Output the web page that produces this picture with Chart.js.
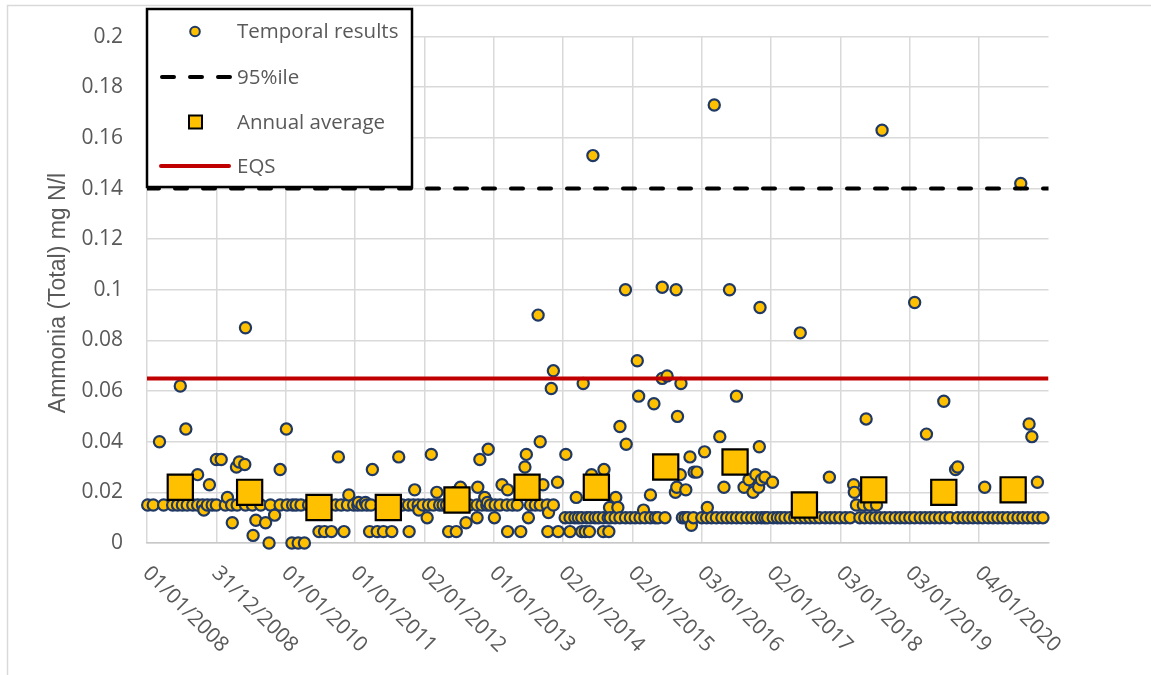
<!DOCTYPE html>
<html>
<head>
<meta charset="utf-8">
<title>Ammonia (Total) mg N/l</title>
<script src="https://cdn.jsdelivr.net/npm/chart.js@4.4.1/dist/chart.umd.min.js"></script>
<style>
  html, body { margin: 0; padding: 0; background: #ffffff; }
  #wrap { position: relative; width: 1151px; height: 675px; }
  canvas { display: block; }
</style>
</head>
<body>
<div id="wrap"><canvas id="chart" width="1151" height="675"></canvas></div>
<script>
// ---- data -------------------------------------------------------------
const tickLabels = ['01/01/2008', '31/12/2008', '01/01/2010', '01/01/2011', '02/01/2012',
  '01/01/2013', '02/01/2014', '02/01/2015', '03/01/2016', '02/01/2017', '03/01/2018',
  '03/01/2019', '04/01/2020'];
const axisTitle = 'Ammonia (Total) mg N/l';
const seriesNames = ['Temporal results', '95%ile', 'Annual average', 'EQS'];

const eqsValue = 0.065;
const p95Value = 0.14;

// sample dates (decimal years) of results reported at the limit values
const lodYears015 = [2008.01, 2008.09, 2008.24, 2008.37, 2008.44, 2008.51, 2008.58, 2008.66, 2008.73,
  2008.80, 2008.87, 2008.94, 2009.00, 2009.13, 2009.22, 2009.30, 2009.42, 2009.52, 2009.64, 2009.78,
  2009.92, 2010.02, 2010.10, 2010.15, 2010.22, 2010.33, 2010.42, 2010.50, 2010.58, 2010.72, 2010.80,
  2010.89, 2010.98, 2011.04, 2011.10, 2011.17, 2011.23, 2011.38, 2011.50, 2011.68, 2011.77, 2011.84,
  2011.91, 2011.98, 2012.06, 2012.13, 2012.22, 2012.27, 2012.32, 2012.40, 2012.55, 2012.65, 2012.76,
  2012.83, 2012.90, 2012.95, 2013.02, 2013.09, 2013.19, 2013.27, 2013.34, 2013.53, 2013.60, 2013.67,
  2013.77, 2013.86];
const lodYears010 = [2014.03, 2014.10, 2014.17, 2014.22, 2014.27, 2014.34, 2014.39, 2014.46, 2014.51,
  2014.58, 2014.65, 2014.68, 2014.75, 2014.82, 2014.90, 2014.97, 2015.04, 2015.11, 2015.18, 2015.26,
  2015.33, 2015.37, 2015.47, 2015.72, 2015.76, 2015.80, 2015.88, 2016.00, 2016.07, 2016.14, 2016.21,
  2016.29, 2016.36, 2016.43, 2016.50, 2016.57, 2016.65, 2016.72, 2016.79, 2016.86, 2016.91, 2016.95,
  2017.03, 2017.09, 2017.14, 2017.20, 2017.27, 2017.34, 2017.42, 2017.49, 2017.56, 2017.63, 2017.70,
  2017.78, 2017.85, 2017.92, 2017.99, 2018.07, 2018.14, 2018.28, 2018.35, 2018.43, 2018.50, 2018.57,
  2018.64, 2018.71, 2018.79, 2018.86, 2018.93, 2019.00, 2019.07, 2019.15, 2019.22, 2019.29, 2019.36,
  2019.43, 2019.51, 2019.58, 2019.69, 2019.77, 2019.84, 2019.91, 2019.98, 2020.05, 2020.13, 2020.20,
  2020.27, 2020.34, 2020.41, 2020.49, 2020.56, 2020.63, 2020.70, 2020.77, 2020.85, 2020.92];
const lodYears0045 = [2010.48, 2010.56, 2010.66, 2010.84, 2011.21, 2011.32, 2011.41, 2011.53, 2011.78,
  2012.35, 2012.46, 2013.20, 2013.39, 2013.78, 2013.93, 2014.10, 2014.27, 2014.32, 2014.38, 2014.58,
  2014.66];

// measured results above the limit values: [decimal year, mg N/l]
const measured = [
  [2008.18, 0.040], [2008.48, 0.062], [2008.56, 0.045], [2008.73, 0.027], [2008.82, 0.013], [2008.90, 0.023],
  [2009.00, 0.033], [2009.07, 0.033], [2009.16, 0.018], [2009.23, 0.008], [2009.29, 0.030], [2009.33, 0.032],
  [2009.41, 0.031], [2009.42, 0.085], [2009.53, 0.003], [2009.57, 0.009], [2009.71, 0.008], [2009.76, 0.000],
  [2009.84, 0.011], [2009.92, 0.029], [2010.01, 0.045], [2010.09, 0.000], [2010.18, 0.000], [2010.27, 0.000],
  [2010.76, 0.034], [2010.91, 0.019], [2011.05, 0.016], [2011.15, 0.016], [2011.25, 0.029], [2011.63, 0.034],
  [2011.86, 0.021], [2011.92, 0.013], [2012.04, 0.010], [2012.10, 0.035], [2012.18, 0.020], [2012.44, 0.020],
  [2012.52, 0.022], [2012.60, 0.008], [2012.76, 0.010], [2012.77, 0.022], [2012.80, 0.033], [2012.87, 0.018],
  [2012.91, 0.016], [2012.92, 0.037], [2013.01, 0.010], [2013.12, 0.023], [2013.20, 0.021], [2013.45, 0.030],
  [2013.47, 0.035], [2013.50, 0.010], [2013.64, 0.090], [2013.67, 0.040], [2013.71, 0.023], [2013.79, 0.012],
  [2013.83, 0.061], [2013.86, 0.068], [2013.92, 0.024], [2014.04, 0.035], [2014.19, 0.018], [2014.29, 0.063],
  [2014.41, 0.027], [2014.43, 0.153], [2014.59, 0.029], [2014.67, 0.014], [2014.76, 0.018], [2014.79, 0.014],
  [2014.82, 0.046], [2014.90, 0.100], [2014.91, 0.039], [2015.07, 0.072], [2015.09, 0.058], [2015.16, 0.013],
  [2015.26, 0.019], [2015.31, 0.055], [2015.43, 0.101], [2015.43, 0.065], [2015.50, 0.066], [2015.62, 0.020],
  [2015.63, 0.100], [2015.64, 0.022], [2015.65, 0.050], [2015.69, 0.027], [2015.70, 0.063], [2015.77, 0.021],
  [2015.83, 0.034], [2015.85, 0.007], [2015.89, 0.028], [2015.93, 0.028], [2016.04, 0.036], [2016.08, 0.014],
  [2016.18, 0.173], [2016.26, 0.042], [2016.32, 0.022], [2016.40, 0.100], [2016.50, 0.058], [2016.61, 0.022],
  [2016.68, 0.025], [2016.74, 0.020], [2016.78, 0.027], [2016.82, 0.022], [2016.83, 0.038], [2016.84, 0.093],
  [2016.86, 0.025], [2016.91, 0.026], [2017.02, 0.024], [2017.42, 0.083], [2017.84, 0.026], [2018.19, 0.023],
  [2018.20, 0.020], [2018.23, 0.015], [2018.33, 0.015], [2018.37, 0.049], [2018.42, 0.015], [2018.52, 0.015],
  [2018.60, 0.163], [2019.07, 0.095], [2019.24, 0.043], [2019.49, 0.056], [2019.66, 0.029], [2019.69, 0.030],
  [2020.08, 0.022], [2020.60, 0.142], [2020.72, 0.047], [2020.76, 0.042], [2020.84, 0.024]
];

const averageYears = [2008.48, 2009.48, 2010.48, 2011.48, 2012.47, 2013.48, 2014.48, 2015.48, 2016.48,
  2017.48, 2018.48, 2019.49, 2020.49];
const averageValues = [0.022, 0.020, 0.014, 0.014, 0.017, 0.022, 0.022, 0.030, 0.032, 0.015, 0.021, 0.020, 0.021];

const xStart = 2008;
const xEnd = 2021;

// ---- build datasets ---------------------------------------------------
const samplePoints = [];
lodYears015.forEach(t => samplePoints.push({ x: t, y: 0.015 }));
lodYears010.forEach(t => samplePoints.push({ x: t, y: 0.010 }));
lodYears0045.forEach(t => samplePoints.push({ x: t, y: 0.0045 }));
measured.forEach(([t, v]) => samplePoints.push({ x: t, y: v }));
samplePoints.sort((a, b) => a.x - b.x);

const averagePoints = averageYears.map((t, i) => ({ x: t, y: averageValues[i] }));

const GOLD = '#FFC000';
const NAVY = '#1F3864';
const RED = '#C00000';
const TEXT = '#595959';
const GRID = '#d9d9d9';

// ---- plugins ----------------------------------------------------------
const frame = {
  id: 'frame',
  beforeDraw(chart) {
    const ctx = chart.ctx;
    ctx.save();
    ctx.fillStyle = '#ffffff';
    ctx.fillRect(0, 0, chart.width, chart.height);
    ctx.strokeStyle = GRID;
    ctx.lineWidth = 1.5;
    ctx.strokeRect(7.5, 5.5, 2000, 2000);
    ctx.restore();
  }
};

const axisText = {
  id: 'axisText',
  afterDraw(chart) {
    const ctx = chart.ctx;
    const xs = chart.scales.x;
    ctx.save();
    ctx.fillStyle = TEXT;
    ctx.font = '21px "Open Sans"';
    ctx.textAlign = 'left';
    ctx.textBaseline = 'middle';
    tickLabels.forEach((lab, i) => {
      const px = xs.getPixelForValue(xStart + i);
      ctx.save();
      ctx.translate(px - 1, 570);
      ctx.rotate(Math.PI / 4);
      ctx.fillText(lab, 0, 0);
      ctx.restore();
    });
    ctx.save();
    ctx.font = '23px "Liberation Sans"';
    ctx.textAlign = 'center';
    ctx.translate(59, 293);
    ctx.rotate(-Math.PI / 2);
    ctx.fillText(axisTitle, 0, 0);
    ctx.restore();
    ctx.restore();
  }
};

const legendBox = {
  id: 'legendBox',
  afterDraw(chart) {
    const ctx = chart.ctx;
    ctx.save();
    ctx.fillStyle = '#ffffff';
    ctx.fillRect(147, 9, 265, 178);
    ctx.strokeStyle = '#000000';
    ctx.lineWidth = 2.5;
    ctx.strokeRect(147, 9, 265, 178);

    const textX = 237;
    const rows = [31.5, 77, 122, 166];
    // sample marker
    ctx.beginPath();
    ctx.arc(195, rows[0], 4.8, 0, Math.PI * 2);
    ctx.fillStyle = GOLD;
    ctx.fill();
    ctx.lineWidth = 2;
    ctx.strokeStyle = NAVY;
    ctx.stroke();
    // dashed 95%ile
    ctx.beginPath();
    ctx.setLineDash([12, 16]);
    ctx.lineCap = 'round';
    ctx.lineWidth = 4;
    ctx.strokeStyle = '#000000';
    ctx.moveTo(162, rows[1]);
    ctx.lineTo(230, rows[1]);
    ctx.stroke();
    ctx.setLineDash([]);
    // average marker
    ctx.fillStyle = GOLD;
    ctx.fillRect(189, rows[2] - 6.5, 13, 13);
    ctx.lineWidth = 2;
    ctx.lineCap = 'butt';
    ctx.strokeStyle = '#000000';
    ctx.strokeRect(189, rows[2] - 6.5, 13, 13);
    // EQS line
    ctx.beginPath();
    ctx.lineCap = 'round';
    ctx.lineWidth = 4;
    ctx.strokeStyle = RED;
    ctx.moveTo(161, rows[3]);
    ctx.lineTo(229, rows[3]);
    ctx.stroke();

    ctx.fillStyle = TEXT;
    ctx.font = '20.5px "Open Sans"';
    ctx.textAlign = 'left';
    ctx.textBaseline = 'middle';
    seriesNames.forEach((n, i) => ctx.fillText(n, textX, rows[i] + 1));
    ctx.restore();
  }
};

// ---- chart ------------------------------------------------------------
new Chart(document.getElementById('chart'), {
  type: 'scatter',
  data: {
    datasets: [
      {
        label: seriesNames[0],
        data: samplePoints,
        showLine: false,
        pointRadius: 5.6,
        pointBorderWidth: 2.2,
        pointBackgroundColor: GOLD,
        pointBorderColor: NAVY,
        clip: false,
        order: 4
      },
      {
        label: seriesNames[1],
        data: [{ x: xStart, y: p95Value }, { x: xEnd, y: p95Value }],
        showLine: true,
        pointRadius: 0,
        borderColor: '#000000',
        borderWidth: 4,
        borderDash: [12, 16],
        borderCapStyle: 'round',
        order: 3
      },
      {
        label: seriesNames[2],
        data: averagePoints,
        showLine: false,
        pointStyle: 'rect',
        pointRadius: 17.8,
        pointBorderWidth: 2.2,
        pointBackgroundColor: GOLD,
        pointBorderColor: '#000000',
        clip: false,
        order: 2
      },
      {
        label: seriesNames[3],
        data: [{ x: xStart, y: eqsValue }, { x: xEnd, y: eqsValue }],
        showLine: true,
        pointRadius: 0,
        borderColor: RED,
        borderWidth: 4,
        order: 1
      }
    ]
  },
  options: {
    responsive: false,
    animation: false,
    devicePixelRatio: 1,
    events: [],
    layout: { padding: { top: 35, right: 102.5, left: 0, bottom: 0 } },
    plugins: { legend: { display: false }, tooltip: { enabled: false } },
    scales: {
      x: {
        type: 'linear',
        min: xStart,
        max: xEnd,
        afterBuildTicks(scale) {
          scale.ticks = tickLabels.map((_, i) => ({ value: xStart + i }));
        },
        afterFit(scale) { scale.height = 132; },
        ticks: { display: false },
        grid: { color: GRID, lineWidth: 1.5, drawTicks: false },
        border: { display: true, color: '#c8c8c8', width: 1.5 }
      },
      y: {
        min: 0,
        max: 0.2,
        afterFit(scale) { scale.width = 147; },
        ticks: {
          stepSize: 0.02,
          padding: 24,
          color: TEXT,
          font: { family: 'Open Sans', size: 21 },
          callback: v => String(Number(v.toFixed(2)))
        },
        grid: { color: GRID, lineWidth: 1.5, drawTicks: false },
        border: { display: false }
      }
    }
  },
  plugins: [frame, axisText, legendBox]
});
</script>
</body>
</html>
